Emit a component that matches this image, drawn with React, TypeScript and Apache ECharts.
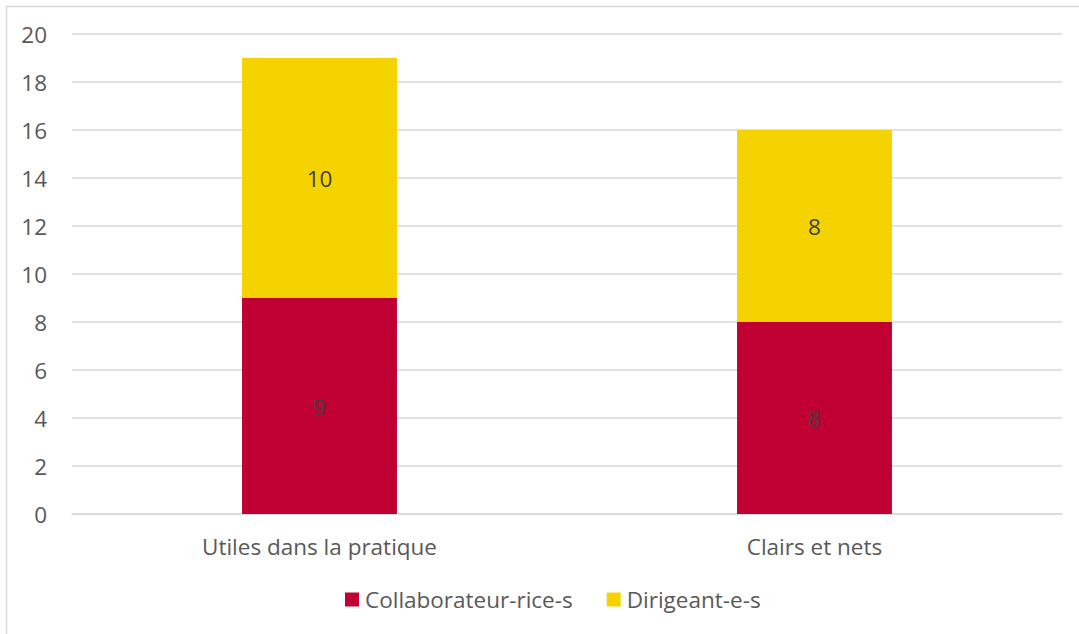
import React, { useEffect, useRef } from "react";
import * as echarts from "echarts";

const categories = ["Utiles dans la pratique", "Clairs et nets"];
const collaborateurs = [9, 8];
const dirigeants = [10, 8];
const seriesNames = ["Collaborateur-rice-s", "Dirigeant-e-s"];

export default function App() {
  const ref = useRef<HTMLDivElement>(null);
  useEffect(() => {
    if (!ref.current) return;
    const chart = echarts.init(ref.current, null, { renderer: "svg" });
    const font = "'Open Sans', 'Noto Sans', sans-serif";
    const fs = 22.5;
    const label = {
      show: true,
      position: "inside",
      color: "#404040",
      fontSize: fs,
      fontFamily: font,
    };
    chart.setOption({
      animation: false,
      backgroundColor: "#ffffff",
      textStyle: { fontFamily: font },
      graphic: [
        {
          type: "rect",
          shape: { x: 6.5, y: 6.5, width: 1200, height: 800 },
          style: { fill: "none", stroke: "#d9d9d9", lineWidth: 1.5 },
          silent: true,
        },
      ],
      grid: { left: 72, right: 17, top: 34, bottom: 120, containLabel: false },
      legend: {
        bottom: 18,
        left: 340,
        icon: "rect",
        itemWidth: 14,
        itemHeight: 14,
        itemGap: 34,
        textStyle: { color: "#595959", fontSize: fs, fontFamily: font, padding: [0, 0, 0, 1] },
        data: seriesNames,
      },
      xAxis: {
        type: "category",
        data: categories,
        axisLine: { show: true, lineStyle: { color: "#d9d9d9", width: 1.5 } },
        axisTick: { show: false },
        axisLabel: { color: "#595959", fontSize: fs, margin: 21, fontFamily: font },
      },
      yAxis: {
        type: "value",
        min: 0,
        max: 20,
        interval: 2,
        axisLine: { show: false },
        axisTick: { show: false },
        axisLabel: { color: "#595959", fontSize: fs, margin: 25, fontFamily: font },
        splitLine: { lineStyle: { color: "#d9d9d9", width: 1.5 } },
      },
      series: [
        {
          name: seriesNames[0],
          type: "bar",
          stack: "total",
          data: collaborateurs,
          barWidth: "31.3%",
          itemStyle: { color: "#C00033" },
          label,
        },
        {
          name: seriesNames[1],
          type: "bar",
          stack: "total",
          data: dirigeants,
          barWidth: "31.3%",
          itemStyle: { color: "#F5D300" },
          label,
        },
      ],
    });
    return () => chart.dispose();
  }, []);
  return (
    <div
      ref={ref}
      style={{ position: "absolute", left: 0, top: 0, width: 1079, height: 634 }}
    />
  );
}
